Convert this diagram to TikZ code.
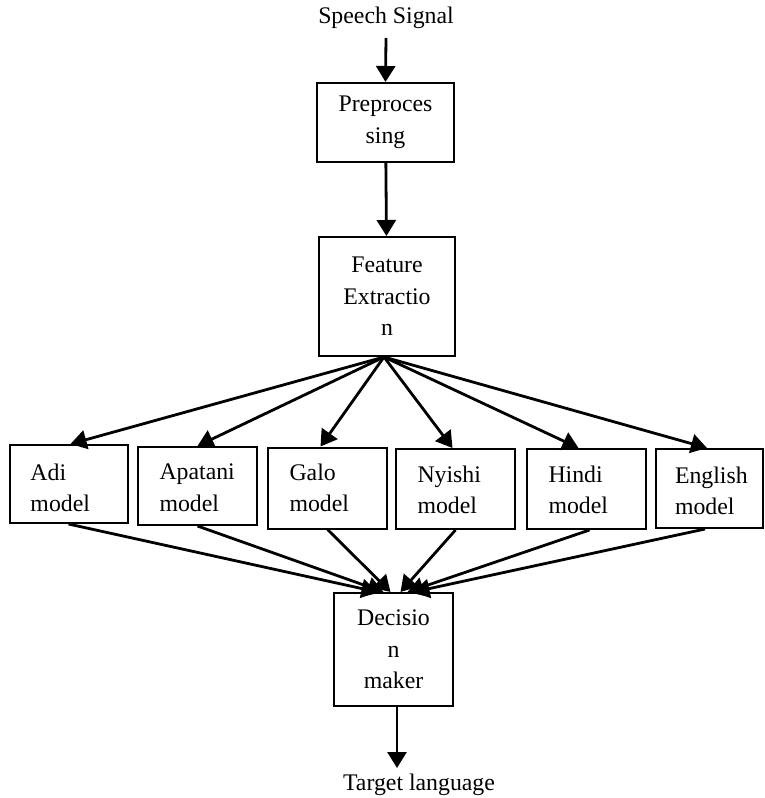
\documentclass[tikz,border=0pt]{standalone}
\usepackage{fontspec}
\setmainfont{Liberation Serif}
\usetikzlibrary{arrows.meta}
\begin{document}
\begin{tikzpicture}[x=1pt,y=-1pt,
  txt/.style={inner sep=0pt, font=\fontsize{23.8}{31.5}\selectfont},
  box/.style={txt, draw, line width=2pt, align=center},
  mbox/.style={draw, line width=2pt, minimum width=118pt, minimum height=78pt},
  mtxt/.style={txt, align=left, text width=76pt},
  arr/.style={-{Triangle[length=16pt,width=19pt]}, line width=2.8pt}
]
\useasboundingbox (0,0) rectangle (764,798);

\node[txt] (sig) at (386,18) {Speech Signal};
\node[box, minimum width=137pt, minimum height=79pt] (pre) at (385.5,122.5) {Preproces\\sing};
\node[box, minimum width=136pt, minimum height=119pt] (fe) at (387,296.5) {Feature\\Extractio\\n};

\node[mbox] (adi) at (68.5,484) {};
\node[mbox, minimum width=119pt] (apa) at (197.5,486) {};
\node[mbox, minimum width=119pt, minimum height=81pt] (galo) at (327.5,488) {};
\node[mbox, minimum width=119pt, minimum height=80pt] (nyi) at (455.5,489) {};
\node[mbox, minimum width=119pt, minimum height=80pt] (hin) at (586.5,489) {};
\node[mbox, minimum width=107pt, minimum height=79pt] (eng) at (709,488.5) {};

\node[mtxt] (adit) at ([yshift=-4pt]adi.center) {Adi\\model};
\node[mtxt] (apat) at ([yshift=-1.5pt]apa.center) {Apatani\\model};
\node[mtxt] (galot) at (galo.center) {Galo\\model};
\node[mtxt] (nyit) at ([yshift=-1pt]nyi.center) {Nyishi\\model};
\node[mtxt] (hint) at ([yshift=-1pt]hin.center) {Hindi\\model};
\node[mtxt, xshift=4pt] (engt) at ([yshift=-2.5pt]eng.center) {English\\model};

\node[box, minimum width=119pt, minimum height=113pt] (dm) at (393.5,649.5) {Decisio\\n\\maker};
\node[txt] (tl) at (419,785) {Target language};

\draw[arr] (sig.south |- 0,38) -- (pre.north);
\draw[arr] (pre) -- (fe);

\coordinate (apex) at (384,357);
\draw[arr] (apex) -- ([xshift=2pt]adi.north);
\draw[arr] (apex) -- (apa.north);
\draw[arr] (apex) -- ([xshift=-7pt]galo.north);
\draw[arr] (apex) -- ([xshift=-3pt]nyi.north);
\draw[arr] (apex) -- ([xshift=-8pt]hin.north);
\draw[arr] (apex) -- ([xshift=-2pt]eng.north);

\draw[arr] (adi.south) -- ([xshift=-16pt]dm.north);
\draw[arr] (apa.south) -- ([xshift=-10pt]dm.north);
\draw[arr] (galo.south) -- ([xshift=-3pt]dm.north);
\draw[arr] (nyi.south) -- ([xshift=7pt]dm.north);
\draw[arr] ([xshift=3pt]hin.south) -- ([xshift=14pt]dm.north);
\draw[arr] ([xshift=-4pt]eng.south) -- ([xshift=20pt]dm.north);

\draw[arr] ([xshift=3.5pt]dm.south) -- ([xshift=3.5pt]dm.south |- 0,768);
\end{tikzpicture}
\end{document}
